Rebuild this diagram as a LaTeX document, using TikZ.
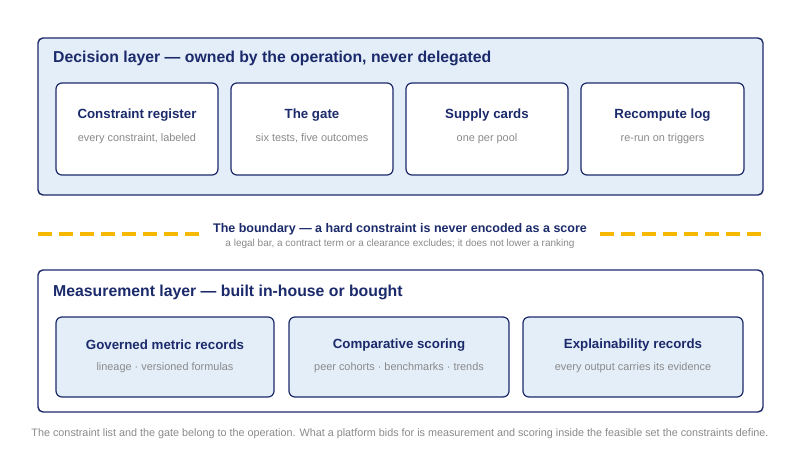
\documentclass[tikz,border=0pt]{standalone}
\usepackage{fontspec}
\setmainfont{Liberation Sans}
\definecolor{navy}{HTML}{1B2A6B}
\definecolor{lfill}{HTML}{E4EEF9}
\definecolor{gtxt}{HTML}{8A8A8A}
\definecolor{gold}{HTML}{F6B800}
\begin{document}
\begin{tikzpicture}[x=1pt,y=-1pt,
  outer/.style={draw=navy,line width=1.4pt,rounded corners=5pt},
  card/.style={draw=navy,line width=1.2pt,rounded corners=6pt},
  ttl/.style={font=\bfseries\fontsize{13.3}{15}\selectfont,text=navy},
  big/.style={font=\bfseries\fontsize{15.8}{18}\selectfont,text=navy,anchor=west,inner sep=0pt},
  sub/.style={font=\fontsize{10.9}{12}\selectfont,text=gtxt},
  golddash/.style={gold,line width=3.8pt,dash pattern=on 14pt off 7pt}]
\useasboundingbox (0,0) rectangle (800,450);
\fill[white] (0,0) rectangle (800,450);
\draw[outer,fill=lfill] (38,38) rectangle (763,195);
\node[big] (dt) at (53,58.5) {Decision layer — owned by the operation, never delegated};
\foreach \a/\b/\n/\t/\s in {56/218/c1/Constraint register/{every constraint, labeled},231/393/c2/The gate/{six tests, five outcomes},406/568/c3/Supply cards/one per pool,581/744/c4/Recompute log/re-run on triggers}{
  \draw[card,fill=white] (\a,83) rectangle (\b,175);
  \node[ttl] (\n t) at ({(\a+\b)/2},115.5) {\t};
  \node[sub] (\n s) at ({(\a+\b)/2},138.5) {\s};
}
\coordinate (l1) at (38,234); \coordinate (l2) at (200,234);
\coordinate (r1) at (600,234); \coordinate (r2) at (763,234);
\draw[golddash] (l1) -- (l2);
\draw[golddash] (r1) -- (r2);
\node[font=\bfseries\fontsize{12.5}{14}\selectfont,text=navy] (bt) at (400,229) {The boundary — a hard constraint is never encoded as a score};
\node[font=\fontsize{10}{11}\selectfont,text=gtxt] (bs) at (400,243.5) {a legal bar, a contract term or a clearance excludes; it does not lower a ranking};
\draw[outer,fill=white] (38,270) rectangle (763,412);
\node[big] (mt) at (53,292.5) {Measurement layer — built in-house or bought};
\foreach \a/\b/\n/\t/\s in {56/274/m1/Governed metric records/lineage · versioned formulas,289/509/m2/Comparative scoring/peer cohorts · benchmarks · trends,523/743/m3/Explainability records/every output carries its evidence}{
  \draw[card,fill=lfill] (\a,317) rectangle (\b,397);
  \node[ttl] (\n t) at ({(\a+\b)/2},345) {\t};
  \node[sub] (\n s) at ({(\a+\b)/2},368) {\s};
}
\node[font=\fontsize{10.8}{12}\selectfont,text=gtxt] (ft) at (400,434) {The constraint list and the gate belong to the operation. What a platform bids for is measurement and scoring inside the feasible set the constraints define.};
\end{tikzpicture}
\end{document}
